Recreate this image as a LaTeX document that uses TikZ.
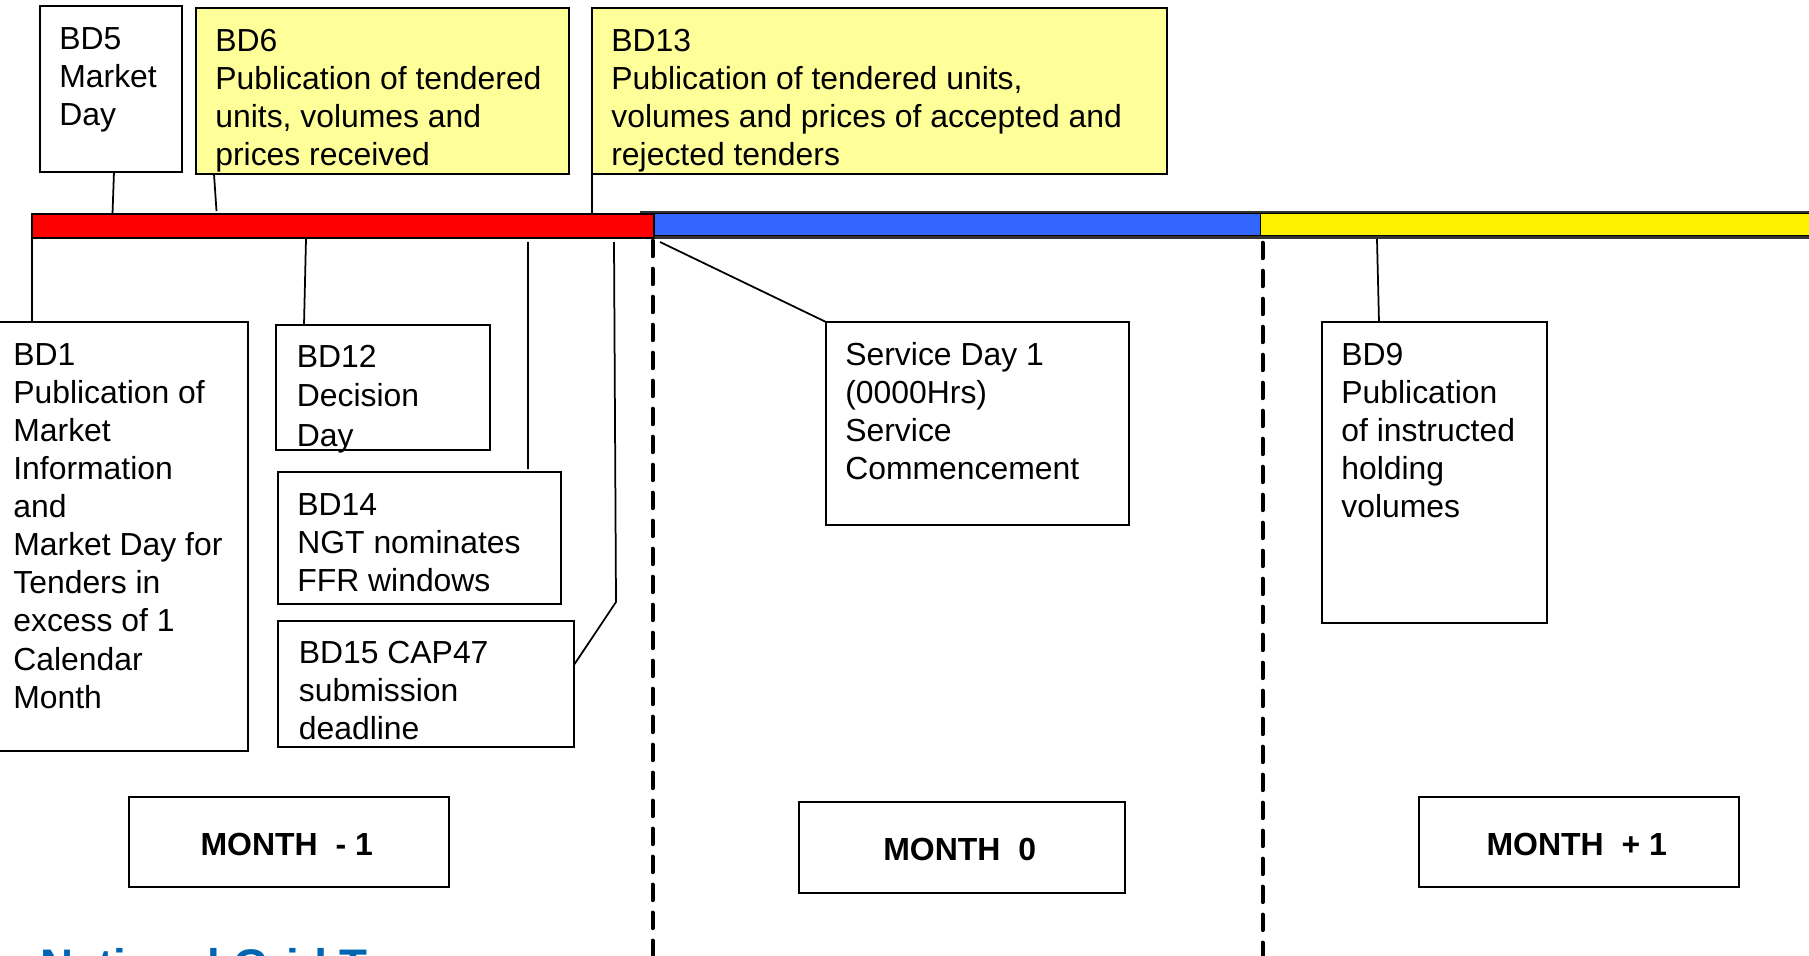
\documentclass[tikz,border=0pt]{standalone}
\usepackage{fontspec}
\setmainfont{Liberation Sans}
\usetikzlibrary{calc, positioning}
\definecolor{paleyellow}{HTML}{FFFF99}
\definecolor{barblue}{HTML}{3366FF}
\definecolor{ngblue}{HTML}{0066B3}
\tikzset{
    evbox/.style={draw=black, line width=0.04cm, anchor=north west, inner sep=0pt, outer sep=0pt},
    evtext/.style={anchor=north west, align=left, inner xsep=0.38cm, inner ysep=0.415cm, font=\fontsize{18.15pt}{21.7pt}\selectfont},
    monthbox/.style={draw=black, line width=0.04cm, anchor=north west, inner sep=0pt, text height=0.53cm, font=\fontsize{18.2pt}{21pt}\selectfont\bfseries},
    barpart/.style={anchor=north west, inner sep=0pt, outer sep=0pt},
    lead/.style={black, line width=0.035cm},
    monthline/.style={black, line width=0.08cm, line cap=round, dash pattern=on 0.31cm off 0.25cm}
}
\begin{document}
\begin{tikzpicture}[x=0.02cm,y=-0.02cm]
    \useasboundingbox (0,0) rectangle (1809,956);
    % month boundaries
    \coordinate (limita) at (652.5,240.75);
    \coordinate (limitb) at (1262.5,242.75);
    \draw[monthline] (limita) -- (limita |- 0,960);
    \draw[monthline] (limitb) -- (limitb |- 0,960);
    % time bar
    \node[barpart, fill=black!80, minimum width=13.06cm, minimum height=0.56cm] (backblue) at (640,211.5) {};
    \node[barpart, fill=black!80, minimum width=11.4cm, minimum height=0.56cm] (backyellow) at (1260,211.5) {};
    \node[barpart, draw=black, thin, fill=barblue, minimum width=12.12cm, minimum height=0.44cm] (bluebar) at (654,213) {};
    \node[barpart, draw=black, thin, fill=yellow, minimum width=11.4cm, minimum height=0.44cm] (yellowbar) at (1260,213) {};
    \node[barpart, draw=black, line width=0.04cm, fill=red, minimum width=12.44cm, minimum height=0.48cm] (redbar) at (32,214) {};
    % boxes above
    \node[evbox, minimum width=2.84cm, minimum height=3.32cm] (bdfive) at (40,6) {};
    \node[evbox, fill=paleyellow, minimum width=7.46cm, minimum height=3.32cm] (bdsix) at (196,8) {};
    \node[evbox, fill=paleyellow, minimum width=11.5cm, minimum height=3.32cm] (bdthirteen) at (592,8) {};
    \node[evtext] (bdfivetext) at (bdfive.north west) {BD5\\Market\\Day};
    \node[evtext] (bdsixtext) at (bdsix.north west) {BD6\\Publication of tendered\\units, volumes and\\prices received};
    \node[evtext] (bdthirteentext) at (bdthirteen.north west) {BD13\\Publication of tendered units,\\volumes and prices of accepted and\\rejected tenders};
    % boxes below
    \node[evbox, minimum width=5.08cm, minimum height=8.58cm] (bdone) at (-6,322) {};
    \node[evbox, minimum width=4.28cm, minimum height=2.5cm] (bdtwelve) at (276,325) {};
    \node[evbox, minimum width=5.66cm, minimum height=2.64cm] (bdfourteen) at (278,472) {};
    \node[evbox, minimum width=5.92cm, minimum height=2.52cm] (bdfifteen) at (278,621) {};
    \node[evbox, minimum width=6.06cm, minimum height=4.06cm] (service) at (826,322) {};
    \node[evbox, minimum width=4.5cm, minimum height=6.02cm] (bdnine) at (1322,322) {};
    \node[evtext] (bdonetext) at (bdone.north west) {BD1\\Publication of\\Market\\Information\\and\\Market Day for\\Tenders in\\excess of 1\\Calendar\\Month};
    \node[evtext, xshift=0.03cm, inner ysep=0.40cm, font=\fontsize{18.15pt}{22.4pt}\selectfont] (bdtwelvetext) at (bdtwelve.north west) {BD12\\Decision\\Day};
    \node[evtext] (bdfourteentext) at (bdfourteen.north west) {BD14\\NGT nominates\\FFR windows};
    \node[evtext, xshift=0.03cm, inner ysep=0.40cm] (bdfifteentext) at (bdfifteen.north west) {BD15 CAP47\\submission\\deadline};
    \node[evtext, inner ysep=0.40cm] (servicetext) at (service.north west) {Service Day 1\\(0000Hrs)\\Service\\Commencement};
    \node[evtext] (bdninetext) at (bdnine.north west) {BD9\\Publication\\of instructed\\holding\\volumes};
    % month labels
    \node[monthbox, minimum width=6.4cm, minimum height=1.8cm] (monthprev) at (128,796) {MONTH~~- 1\kern0.09cm};
    \node[monthbox, minimum width=6.52cm, minimum height=1.82cm] (monthzero) at (798,801) {MONTH~~0\kern0.09cm};
    \node[monthbox, minimum width=6.4cm, minimum height=1.8cm] (monthnext) at (1418,796) {MONTH~~+ 1\kern0.09cm};
    % leader ends
    \coordinate (tickfive) at (112.5,214);
    \coordinate (ticksix) at (216.5,211);
    \coordinate (tickthirteen) at (592,214);
    \coordinate (tickone) at (32,239);
    \coordinate (ticktwelve) at (306,239);
    \coordinate (tickfourteen) at (528,242);
    \coordinate (tickfifteen) at (614,242);
    \coordinate (kneefifteen) at (616,602);
    \coordinate (tickservice) at (660,242);
    \coordinate (ticknine) at (1377,239);
    \draw[lead] ([xshift=0.06cm]bdfive.south) -- (tickfive);
    \draw[lead] ([xshift=0.36cm]bdsix.south west) -- (ticksix);
    \draw[lead] (bdthirteen.south west) -- (tickthirteen);
    \draw[lead] (tickone) -- ([xshift=0.76cm]bdone.north west);
    \draw[lead] (ticktwelve) -- ([xshift=0.56cm]bdtwelve.north west);
    \draw[lead] (tickfourteen) -- ([xshift=5cm,yshift=0.06cm]bdfourteen.north west);
    \draw[lead] (tickfifteen) -- (kneefifteen) -- ([yshift=-0.88cm]bdfifteen.north east);
    \draw[lead] (tickservice) -- (service.north west);
    \draw[lead] (ticknine) -- ([xshift=1.14cm]bdnine.north west);
    % cut off at the page edge
    \node[anchor=north west, inner sep=0pt, text=ngblue, font=\fontsize{26pt}{30pt}\selectfont\bfseries] (brand) at (40,948) {National Grid Transco};
\end{tikzpicture}
\end{document}
